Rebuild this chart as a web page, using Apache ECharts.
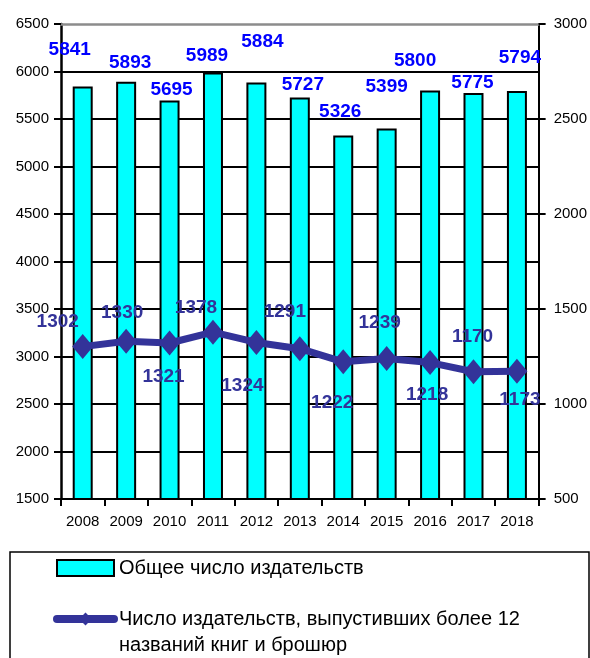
<!DOCTYPE html>
<html>
<head>
<meta charset="utf-8">
<script src="https://cdn.jsdelivr.net/npm/echarts@6/dist/echarts.min.js"></script>
<style>
  html, body { margin: 0; padding: 0; background: #fff; }
  #chart { width: 590px; height: 658px; }
</style>
</head>
<body>
<div id="chart"></div>
<script>
// ---- data ----
const categories = ['2008', '2009', '2010', '2011', '2012', '2013', '2014', '2015', '2016', '2017', '2018'];
const totalPublishers = [5841, 5893, 5695, 5989, 5884, 5727, 5326, 5399, 5800, 5775, 5794];
const activePublishers = [1302, 1330, 1321, 1378, 1324, 1291, 1222, 1239, 1218, 1170, 1173];
const seriesNames = ['Общее число издательств', 'Число издательств, выпустивших более 12 названий книг и брошюр'];
const leftAxis = { min: 1500, max: 6500, interval: 500 };
const rightAxis = { min: 500, max: 3000, interval: 500 };

// ---- label placement (layout only) ----
const barLabelOffsets = [[-13, -27], [4, -9], [2, -1], [-6, -7], [6, -31], [3, -3], [-3, -14], [0, -32], [-15, -20], [-1, -1], [3, -24]];
const lineLabelOffsets = [[-25, -25], [-4, -29], [-6, 34], [-17, -24], [-14, 43], [-15, -37], [-11, 41], [-7, -36], [-3, 32], [-1, -35], [3, 29]];

const FONT = "'Liberation Sans', Arial, sans-serif";
const chart = echarts.init(document.getElementById('chart'), null, { renderer: 'canvas' });

const barData = totalPublishers.map((v, i) => ({
  value: v,
  label: { offset: barLabelOffsets[i] }
}));
const lineData = activePublishers.map((v, i) => ({
  value: v,
  label: { offset: lineLabelOffsets[i] }
}));
const plain = v => String(v);

chart.setOption({
  backgroundColor: '#ffffff',
  animation: false,
  textStyle: { fontFamily: FONT },
  grid: { left: 61, right: 51, top: 24, bottom: 159, containLabel: false },
  xAxis: [{
    type: 'category',
    data: categories,
    position: 'bottom',
    boundaryGap: true,
    axisLine: { lineStyle: { color: '#000', width: 2 } },
    axisTick: { show: true, interval: 0, length: 7, lineStyle: { color: '#000', width: 2 } },
    axisLabel: { interval: 0, color: '#000', fontSize: 15, fontFamily: FONT, margin: 15 }
  }, {
    type: 'category',
    data: categories,
    position: 'top',
    axisLine: { lineStyle: { color: '#8c8c8c', width: 2.5 } },
    axisTick: { show: false },
    axisLabel: { show: false }
  }],
  yAxis: [{
    type: 'value',
    position: 'left',
    min: leftAxis.min, max: leftAxis.max, interval: leftAxis.interval,
    axisLine: { show: true, lineStyle: { color: '#000', width: 2.5 } },
    axisTick: { show: true, length: 7, lineStyle: { color: '#000', width: 2 } },
    axisLabel: { color: '#000', fontSize: 15, fontFamily: FONT, margin: 12, formatter: plain },
    splitLine: { show: true, showMaxLine: false, lineStyle: { color: '#000', width: 2 } }
  }, {
    type: 'value',
    position: 'right',
    min: rightAxis.min, max: rightAxis.max, interval: rightAxis.interval,
    axisLine: { show: true, lineStyle: { color: '#000', width: 2 } },
    axisTick: { show: true, length: 7, lineStyle: { color: '#000', width: 2 } },
    axisLabel: { color: '#000', fontSize: 15, fontFamily: FONT, margin: 15, formatter: plain },
    splitLine: { show: false }
  }],
  legend: {
    orient: 'vertical',
    left: 53,
    top: 555,
    height: 300,
    padding: 0,
    itemGap: -1,
    itemWidth: 57,
    itemHeight: 16,
    selectedMode: false,
    data: [
      { name: seriesNames[0], icon: 'rect', itemStyle: { borderColor: '#000', borderWidth: 2 } },
      { name: seriesNames[1], lineStyle: { width: 8, cap: 'round' } }
    ],
    textStyle: { color: '#000', fontSize: 20, fontFamily: FONT, lineHeight: 26 },
    formatter: function (name) {
      if (name === seriesNames[1]) {
        return ' \nЧисло издательств, выпустивших более 12\nназваний книг и брошюр';
      }
      return name;
    }
  },
  graphic: [{
    type: 'rect',
    shape: { x: 10, y: 552, width: 579, height: 140 },
    style: { fill: 'none', stroke: '#000', lineWidth: 1.5 },
    silent: true
  }],
  series: [{
    name: seriesNames[0],
    type: 'bar',
    xAxisIndex: 0,
    yAxisIndex: 0,
    data: barData,
    barWidth: 20,
    itemStyle: { color: '#00ffff', borderColor: '#000', borderWidth: 2 },
    label: {
      show: true,
      position: 'top',
      distance: 0,
      color: '#0000ff',
      fontSize: 19,
      fontWeight: 'bold',
      fontFamily: FONT
    }
  }, {
    name: seriesNames[1],
    type: 'line',
    xAxisIndex: 0,
    yAxisIndex: 1,
    data: lineData,
    symbol: 'diamond',
    symbolSize: [21, 25],
    lineStyle: { color: '#333399', width: 7 },
    itemStyle: { color: '#333399' },
    label: {
      show: true,
      position: 'inside',
      color: '#333399',
      fontSize: 19,
      fontWeight: 'bold',
      fontFamily: FONT
    },
    z: 5
  }]
});
</script>
</body>
</html>
